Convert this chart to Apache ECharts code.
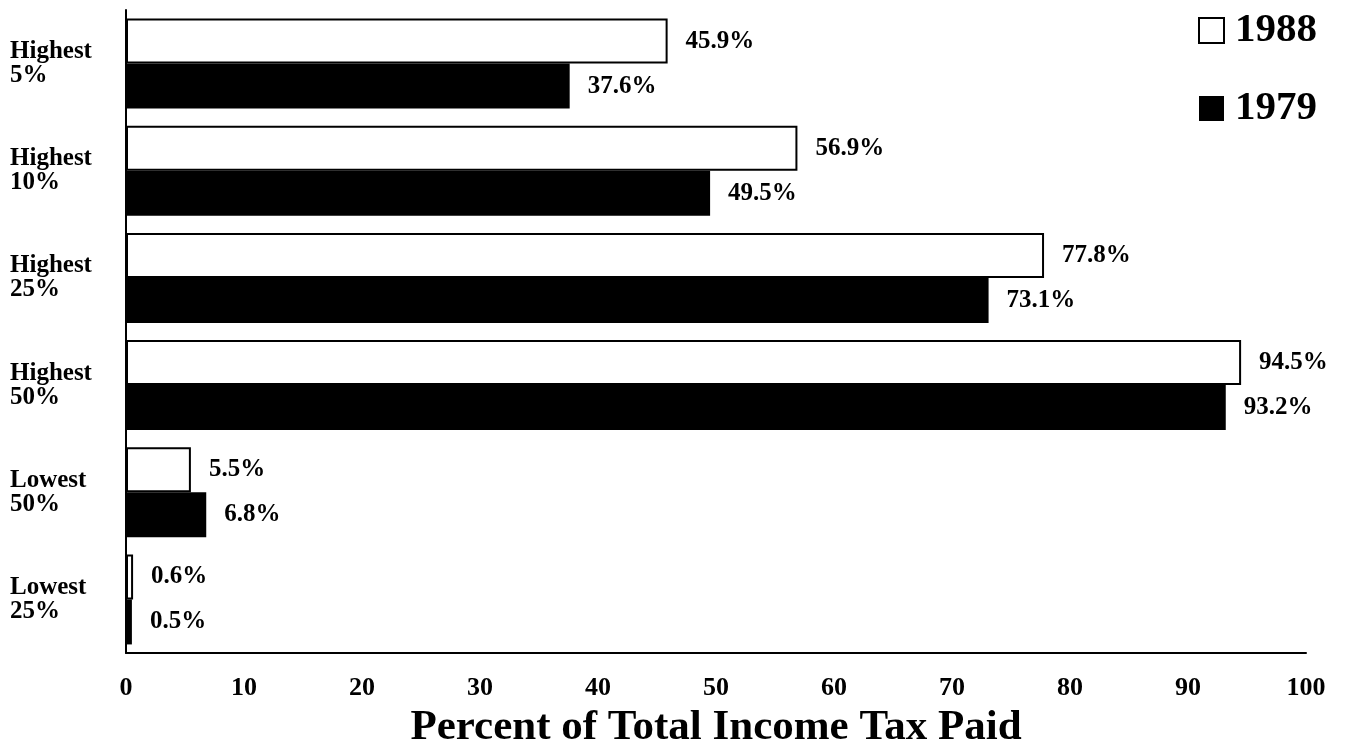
<!DOCTYPE html>
<html>
<head>
<meta charset="utf-8">
<script src="https://cdn.jsdelivr.net/npm/echarts@6/dist/echarts.min.js"></script>
<style>
html,body{margin:0;padding:0;background:#fff;}
#chart{width:1357px;height:748px;}
</style>
</head>
<body>
<div id="chart"></div>
<script>
const categories = ['Highest\n5%', 'Highest\n10%', 'Highest\n25%', 'Highest\n50%', 'Lowest\n50%', 'Lowest\n25%'];
const values1988 = [45.9, 56.9, 77.8, 94.5, 5.5, 0.6];
const values1979 = [37.6, 49.5, 73.1, 93.2, 6.8, 0.5];
const xTicks = [0, 10, 20, 30, 40, 50, 60, 70, 80, 90, 100];
const seriesNames = ['1988', '1979'];
const axisTitle = 'Percent of Total Income Tax Paid';

const FONT = '"Liberation Serif", "Times New Roman", serif';
const chart = echarts.init(document.getElementById('chart'));
const labelStyle = {
  show: true, position: 'right', distance: 18,
  formatter: p => p.value.toFixed(1) + '%',
  fontFamily: FONT, fontWeight: 'bold', fontSize: 25, color: '#000'
};
chart.setOption({
  animation: false,
  backgroundColor: '#fff',
  textStyle: { fontFamily: FONT },
  grid: { left: 126, right: 51, top: 10, bottom: 95, containLabel: false, outerBoundsMode: 'none' },
  legend: {
    orient: 'vertical', left: 1193, top: 5,
    itemWidth: 25, itemHeight: 25, itemGap: 37,
    textStyle: { fontFamily: FONT, fontWeight: 'bold', fontSize: 41, color: '#000', padding: [0, 0, 0, 6] },
    data: [
      { name: seriesNames[0], icon: 'rect', itemStyle: { color: '#fff', borderColor: '#000', borderWidth: 2 } },
      { name: seriesNames[1], icon: 'rect', itemStyle: { color: '#000' } }
    ]
  },
  xAxis: {
    type: 'value', min: 0, max: 100, interval: 10,
    axisLine: { show: true, lineStyle: { color: '#000', width: 2 } },
    axisTick: { show: false },
    splitLine: { show: false },
    axisLabel: {
      margin: 22, fontFamily: FONT, fontWeight: 'bold', fontSize: 26, color: '#000',
      formatter: v => xTicks.includes(v) ? String(v) : ''
    },
    name: axisTitle, nameLocation: 'middle', nameGap: 45,
    nameTextStyle: { fontFamily: FONT, fontWeight: 'bold', fontSize: 43, color: '#000' }
  },
  yAxis: {
    type: 'category', data: categories, inverse: true,
    axisLine: { show: true, lineStyle: { color: '#000', width: 2 } },
    axisTick: { show: false },
    axisLabel: {
      margin: 116, align: 'left', fontFamily: FONT, fontWeight: 'bold', fontSize: 25,
      lineHeight: 24, color: '#000'
    }
  },
  series: [
    {
      name: seriesNames[0], type: 'bar', data: values1988,
      barGap: '0%', barCategoryGap: '16%',
      itemStyle: { color: '#fff', borderColor: '#000', borderWidth: 2 },
      label: labelStyle
    },
    {
      name: seriesNames[1], type: 'bar', data: values1979,
      barGap: '0%', barCategoryGap: '16%',
      itemStyle: { color: '#000' },
      label: labelStyle
    }
  ]
});
</script>
</body>
</html>
